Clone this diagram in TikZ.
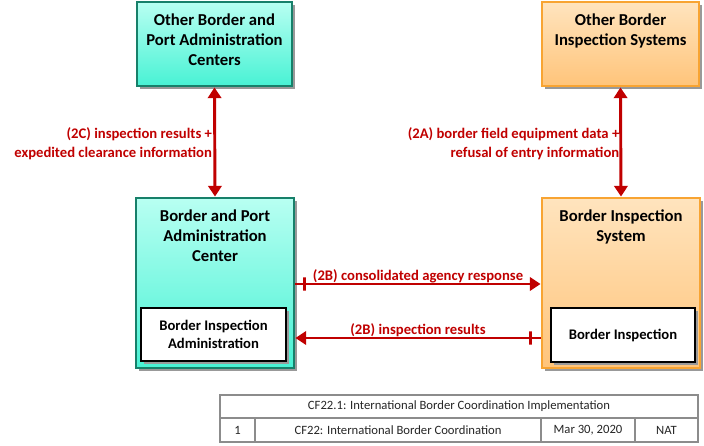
\documentclass[tikz,border=0pt]{standalone}
\usepackage{fontspec}
\setmainfont{Carlito}
\usetikzlibrary{arrows.meta,fit,shadows,positioning}
\definecolor{flowred}{HTML}{C00000}
\definecolor{tealedge}{HTML}{17806A}
\definecolor{tealtop}{HTML}{B8FFF2}
\definecolor{tealbot}{HTML}{48F2D4}
\definecolor{orangeedge}{HTML}{F8A432}
\definecolor{orangetop}{HTML}{FFE4BE}
\definecolor{orangebot}{HTML}{FFC47A}
\definecolor{tablegray}{HTML}{8C8C8C}
\tikzset{
	box/.style={rectangle,inner sep=0pt,line width=2.2pt,drop shadow={shadow xshift=2pt,shadow yshift=-2pt,fill=black!40,opacity=1}},
	tealbox/.style={box,draw=tealedge,top color=tealtop,bottom color=tealbot},
	orangebox/.style={box,draw=orangeedge,top color=orangetop,bottom color=orangebot},
	subbox/.style={box,draw=black,fill=white},
	title/.style={anchor=north,align=center,inner sep=0pt,font=\fontsize{12.5}{15}\selectfont\bfseries},
	subtitle/.style={align=center,inner sep=0pt,font=\fontsize{11}{13.5}\selectfont\bfseries},
	flow/.style={draw=flowred,line width=2.2pt,>={Triangle[length=8pt,width=10pt]}},
	flowtext/.style={text=flowred,align=right,inner sep=0pt,font=\fontsize{11}{14.25}\selectfont\bfseries},
	flowtick/.style={rectangle,draw=flowred,line width=2.2pt,minimum width=0pt,minimum height=10pt,inner sep=0pt},
	tablerule/.style={draw=tablegray,line width=0.8pt},
	tabletext/.style={text=black!85,inner sep=0pt,font=\fontsize{9.5}{11}\selectfont}
}
\begin{document}
\begin{tikzpicture}[x=0.75pt,y=-0.75pt]
	\useasboundingbox (0,0) rectangle (704,446);
	\node[tealbox,fit={(137,2) (292,86)}] (opac) {};
	\node[title] (opacT) at ([yshift=-9.8pt]opac.north) {Other Border and\\Port Administration\\Centers};
	\node[orangebox,fit={(542,2) (699,86)}] (obis) {};
	\node[title] (obisT) at ([yshift=-9.8pt]obis.north) {Other Border\\Inspection Systems};
	\node[tealbox,fit={(136,198) (294,368)}] (bpac) {};
	\node[title] (bpacT) at ([yshift=-9.8pt]bpac.north) {Border and Port\\Administration\\Center};
	\node[orangebox,fit={(542,198) (700,368)}] (bis) {};
	\node[title] (bisT) at ([yshift=-9.8pt]bis.north) {Border Inspection\\System};
	\node[subbox,fit={(141,308) (286,361)}] (bia) {};
	\node[subtitle] (biaT) at (bia.center) {Border Inspection\\Administration};
	\node[subbox,fit={(551,308) (695,362)}] (bi) {};
	\node[subtitle] (biT) at (bi.center) {Border Inspection};

	\draw[flow,<->] (opac.south) -- node[flowtext,midway,left=1pt,yshift=-1.5pt] {(2C) inspection results +\\expedited clearance information} (bpac.north);
	\draw[flow,<->] (obis.south) -- node[flowtext,midway,left=0pt,yshift=-1.5pt] {(2A) border field equipment data +\\refusal of entry information} (bis.north);
	\draw[flow,->] (bpac.east |- 0,284) -- node[flowtick,pos=0.036] {} node[flowtext,midway,above=0pt] {(2B) consolidated agency response} (bis.west |- 0,284);
	\draw[flow,->] (bis.west |- 0,338) -- node[flowtick,pos=0.04] {} node[flowtext,midway,above=-0.5pt] {(2B) inspection results} (bpac.east |- 0,338);

	\draw[tablerule,drop shadow={shadow xshift=1pt,shadow yshift=-1pt,fill=black!25,opacity=1},fill=white] (220,395) rectangle (698,442);
	\draw[tablerule] (220,418) -- (698,418);
	\draw[tablerule] (255,418) -- (255,442);
	\draw[tablerule] (541,418) -- (541,442);
	\draw[tablerule] (635,418) -- (635,442);
	\node[tabletext] (tname) at (459,406.5) {CF22.1: International Border Coordination Implementation};
	\node[tabletext] (tnum) at (237.5,430) {1};
	\node[tabletext] (tflow) at (398,430) {CF22: International Border Coordination};
	\node[tabletext] (tdate) at (588,430) {Mar 30, 2020};
	\node[tabletext] (torg) at (666.5,430) {NAT};
\end{tikzpicture}
\end{document}
